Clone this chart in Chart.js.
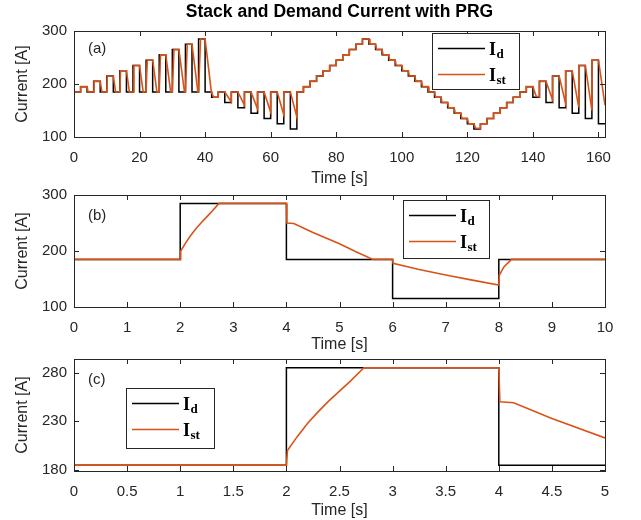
<!doctype html>
<html lang="en">
<head>
<meta charset="utf-8">
<title>Stack and Demand Current with PRG</title>
<script src="https://cdn.jsdelivr.net/npm/chart.js"></script>
<style>
  body { margin: 0; background: #fff; }
  #wrap { position: relative; width: 641px; height: 520px; }
  #wrap canvas { position: absolute; left: 0; }
</style>
</head>
<body>
<div id="wrap">
  <canvas id="chartA" width="641" height="188" style="top:0px"></canvas>
  <canvas id="chartB" width="641" height="175" style="top:179px"></canvas>
  <canvas id="chartC" width="641" height="177" style="top:343px"></canvas>
</div>
<script>
const FONT = "'Liberation Sans', Arial, Helvetica, sans-serif"
const MATH_FONT = "'Liberation Serif', 'Times New Roman', serif"
const GREY = '#262626'
const ORANGE = '#D95319'

// ---- data, panel (a): full drive cycle ----
// demand current: level that starts at each time
const demTimeA = [0, 2, 4, 6, 8, 10, 12, 14, 16, 18, 20, 22, 24, 26, 28, 30, 32, 34, 36, 38,
  40, 42, 44, 46, 48, 50, 52, 54, 56, 58, 60, 62, 64, 66, 68, 70, 72, 74, 76, 78,
  80, 82, 84, 86, 88, 90, 92, 94, 96, 98, 100, 102, 104, 106, 108, 110, 112, 114, 116, 118,
  120, 122, 124, 126, 128, 130, 132, 134, 136, 138, 140, 142, 144, 146, 148, 150, 152, 154, 156, 158,
  160, 162]
const demCurA = [185, 195, 185, 205, 185, 215, 185, 225, 185, 235, 185, 245, 185, 255, 185, 265, 185, 275, 185, 285,
  185, 175, 185, 165, 185, 155, 185, 145, 185, 135, 185, 125, 185, 115, 185, 195, 205, 215, 225, 235,
  245, 255, 265, 275, 285, 275, 265, 255, 245, 235, 225, 215, 205, 195, 185, 175, 165, 155, 145, 135,
  125, 115, 125, 135, 145, 155, 165, 175, 185, 195, 175, 205, 165, 215, 155, 225, 145, 235, 135, 245,
  125, 125]

// stack current [t, I]
const stackA = [
  [0, 185], [2, 185], [2.05, 195], [4, 195], [4.3, 185],
  [6, 185], [6.1, 205], [8, 205], [8.5, 185],
  [10, 185], [10.15, 215], [12, 215], [12.7, 185],
  [14, 185], [14.2, 225], [16, 225], [16.9, 185],
  [18, 185], [18.3, 235], [20, 235], [21.1, 185],
  [22, 185], [22.35, 245], [24, 245], [25.3, 185],
  [26, 185], [26.4, 255], [28, 255], [29.5, 185],
  [30, 185], [30.5, 265], [32, 265], [33.7, 185],
  [34, 185], [34.55, 275], [36, 275], [37.8, 185],
  [38, 185], [38.6, 285], [40, 285], [41.9, 185],
  [42, 185], [42.6, 175], [44, 175], [44, 185],
  [46, 185], [48, 166], [48, 185],
  [50, 185], [52, 160], [52, 185],
  [54, 185], [56, 153], [56, 185],
  [58, 185], [60, 147], [60, 185],
  [62, 185], [64, 142], [64, 185],
  [66, 185], [68, 138], [68.05, 185],
  [70, 185], [70, 195], [72, 195], [72, 205], [74, 205], [74, 215], [76, 215], [76, 225],
  [78, 225], [78, 235], [80, 235], [80, 245], [82, 245], [82, 255], [84, 255], [84, 265],
  [86, 265], [86, 275], [88, 275], [88, 285],
  [90, 285], [90.3, 275], [92, 275], [92.3, 265], [94, 265], [94.3, 255], [96, 255], [96.3, 245],
  [98, 245], [98.3, 235], [100, 235], [100.3, 225], [102, 225], [102.3, 215], [104, 215], [104.3, 205],
  [106, 205], [106.3, 195], [108, 195], [108.3, 185], [110, 185], [110.3, 175], [112, 175], [112.3, 165],
  [114, 165], [114.3, 155], [116, 155], [116.3, 145], [118, 145], [118.3, 135], [120, 135], [120.4, 125],
  [122, 125], [122.5, 117], [124, 116],
  [124, 125], [126, 125], [126, 135], [128, 135], [128, 145], [130, 145], [130, 155], [132, 155],
  [132, 165], [134, 165], [134, 175], [136, 175], [136, 185], [138, 185], [138, 195], [140, 195],
  [141, 177], [142, 176], [142, 205], [144, 205], [146, 170], [146, 215], [148, 215], [150, 163],
  [150, 225], [152, 225], [154, 156], [154, 235], [156, 235], [158, 150], [158, 245], [160, 245],
  [162, 160]
]

// ---- data, panels (b) and (c): single step test ----
const demTimeB = [0, 2, 4, 6, 8, 10]
const demCurB = [185, 285, 185, 115, 185, 185]
const stackB = [
  [0, 185], [2, 185], [2.01, 200], [2.1, 214], [2.2, 228], [2.3, 240], [2.4, 251],
  [2.5, 261], [2.6, 271], [2.73, 285], [4, 285], [4.01, 250], [4.14, 249], [4.5, 233],
  [5, 213], [5.3, 199], [5.63, 185], [6, 185], [6.01, 178], [6.5, 167], [7, 157],
  [7.5, 148], [8, 139], [8.01, 157], [8.1, 172], [8.24, 185], [10, 185]
]

// ---- axes ----
const xTicksA = [0, 20, 40, 60, 80, 100, 120, 140, 160]
const xTicksB = [0, 1, 2, 3, 4, 5, 6, 7, 8, 9, 10]
const xTicksC = [0, 0.5, 1, 1.5, 2, 2.5, 3, 3.5, 4, 4.5, 5]
const yTicksAB = [100, 200, 300]
const yTicksC = [180, 230, 280]

const toSteps = (times, vals) => times.map((t, i) => ({ x: t, y: vals[i] }))
const toPoints = (pairs) => pairs.map(p => ({ x: p[0], y: p[1] }))

// box, inward ticks, panel tag and the I_d / I_st legend, drawn MATLAB style
const matlabAxes = {
  id: 'matlabAxes',
  afterDatasetsDraw(chart, args, opts) {
    const { ctx, chartArea: a, scales } = chart
    ctx.save()
    ctx.strokeStyle = GREY
    ctx.lineWidth = 1
    ctx.beginPath()
    scales.x.ticks.forEach(t => {
      const px = Math.round(scales.x.getPixelForValue(t.value)) + 0.5
      ctx.moveTo(px, a.bottom); ctx.lineTo(px, a.bottom - 5)
      ctx.moveTo(px, a.top); ctx.lineTo(px, a.top + 5)
    })
    scales.y.ticks.forEach(t => {
      const py = Math.round(scales.y.getPixelForValue(t.value)) + 0.5
      ctx.moveTo(a.left, py); ctx.lineTo(a.left + 5, py)
      ctx.moveTo(a.right, py); ctx.lineTo(a.right - 5, py)
    })
    ctx.stroke()
    ctx.strokeRect(Math.round(a.left) + 0.5, Math.round(a.top) + 0.5,
      Math.round(a.right - a.left), Math.round(a.bottom - a.top))

    ctx.fillStyle = GREY
    ctx.font = '15px ' + FONT
    ctx.textBaseline = 'middle'
    ctx.fillText(opts.tag, a.left + 14, a.top + opts.tagY)

    const lg = opts.legend
    ctx.fillStyle = '#fff'
    ctx.fillRect(lg.x, lg.y, lg.w, lg.h)
    ctx.strokeStyle = GREY
    ctx.strokeRect(lg.x + 0.5, lg.y + 0.5, lg.w, lg.h)
    const rows = [['d', '#000', 15.5], ['st', ORANGE, 41.5]]
    rows.forEach(([sub, col, dy]) => {
      const y = lg.y + dy
      ctx.strokeStyle = col
      ctx.lineWidth = 1.6
      ctx.beginPath()
      ctx.moveTo(lg.x + 6, y); ctx.lineTo(lg.x + 53, y)
      ctx.stroke()
      ctx.fillStyle = '#000'
      ctx.textBaseline = 'alphabetic'
      ctx.font = 'bold 18px ' + MATH_FONT
      ctx.fillText('I', lg.x + 57, y + 6.5)
      const w = ctx.measureText('I').width
      ctx.font = 'bold 13px ' + MATH_FONT
      ctx.fillText(sub, lg.x + 57 + w + 0.5, y + 9)
    })
    ctx.restore()
  }
}

function makeChart(id, cfg) {
  const canvas = document.getElementById(id)
  const xAxisHeight = canvas.height - cfg.boxBottom
  return new Chart(canvas, {
    type: 'line',
    data: {
      datasets: [{
        label: 'I_d',
        data: cfg.demand,
        stepped: 'before',
        borderColor: '#000',
        borderWidth: 1.5,
        pointRadius: 0,
        order: 2
      }, {
        label: 'I_st',
        data: cfg.stack,
        borderColor: ORANGE,
        borderWidth: 1.6,
        pointRadius: 0,
        order: 1
      }]
    },
    options: {
      responsive: false,
      animation: false,
      devicePixelRatio: 1,
      layout: { padding: { left: 0, right: 36, top: cfg.padTop, bottom: 0 } },
      scales: {
        x: {
          type: 'linear',
          min: cfg.xMin,
          max: cfg.xMax,
          afterBuildTicks: axis => { axis.ticks = cfg.xTicks.map(v => ({ value: v })) },
          afterFit: s => { s.height = xAxisHeight },
          grid: { display: false, drawTicks: false },
          border: { display: false },
          ticks: { color: GREY, padding: 12, maxRotation: 0, autoSkip: false,
            font: { family: FONT, size: 15 }, callback: v => String(v) },
          title: { display: true, text: 'Time [s]', color: GREY,
            font: { family: FONT, size: 16 }, padding: { top: 0, bottom: 0 } }
        },
        y: {
          type: 'linear',
          min: cfg.yMin,
          max: cfg.yMax,
          afterBuildTicks: axis => { axis.ticks = cfg.yTicks.map(v => ({ value: v })) },
          afterFit: s => { s.width = 74 },
          grid: { display: false, drawTicks: false },
          border: { display: false },
          ticks: { color: GREY, padding: 7, font: { family: FONT, size: 15 } },
          title: { display: true, text: 'Current [A]', color: GREY,
            font: { family: FONT, size: 16 }, padding: { top: 13, bottom: 0 } }
        }
      },
      plugins: {
        legend: { display: false },
        tooltip: { enabled: false },
        title: cfg.title ? {
          display: true, text: cfg.title, color: '#000', fullSize: false,
          font: { family: FONT, size: 17.5, weight: 'bold' }, padding: { top: 2, bottom: 8 }
        } : { display: false },
        matlabAxes: { tag: cfg.tag, tagY: cfg.tagY, legend: cfg.legend }
      }
    },
    plugins: [matlabAxes]
  })
}

makeChart('chartA', {
  title: 'Stack and Demand Current with PRG',
  demand: toSteps(demTimeA, demCurA), stack: toPoints(stackA),
  xMin: 0, xMax: 162, yMin: 100, yMax: 300, xTicks: xTicksA, yTicks: yTicksAB,
  padTop: 0, boxBottom: 137, tag: '(a)', tagY: 17.5,
  legend: { x: 432, y: 33, w: 87, h: 56 }
})

makeChart('chartB', {
  demand: toSteps(demTimeB, demCurB), stack: toPoints(stackB),
  xMin: 0, xMax: 10, yMin: 100, yMax: 300, xTicks: xTicksB, yTicks: yTicksAB,
  padTop: 16, boxBottom: 128, tag: '(b)', tagY: 21,
  legend: { x: 403, y: 21, w: 86, h: 58 }
})

makeChart('chartC', {
  demand: toSteps(demTimeB, demCurB), stack: toPoints(stackB),
  xMin: 0, xMax: 5, yMin: 179, yMax: 294, xTicks: xTicksC, yTicks: yTicksC,
  padTop: 16, boxBottom: 128, tag: '(c)', tagY: 21,
  legend: { x: 126, y: 45, w: 88, h: 60 }
})
</script>
</body>
</html>
